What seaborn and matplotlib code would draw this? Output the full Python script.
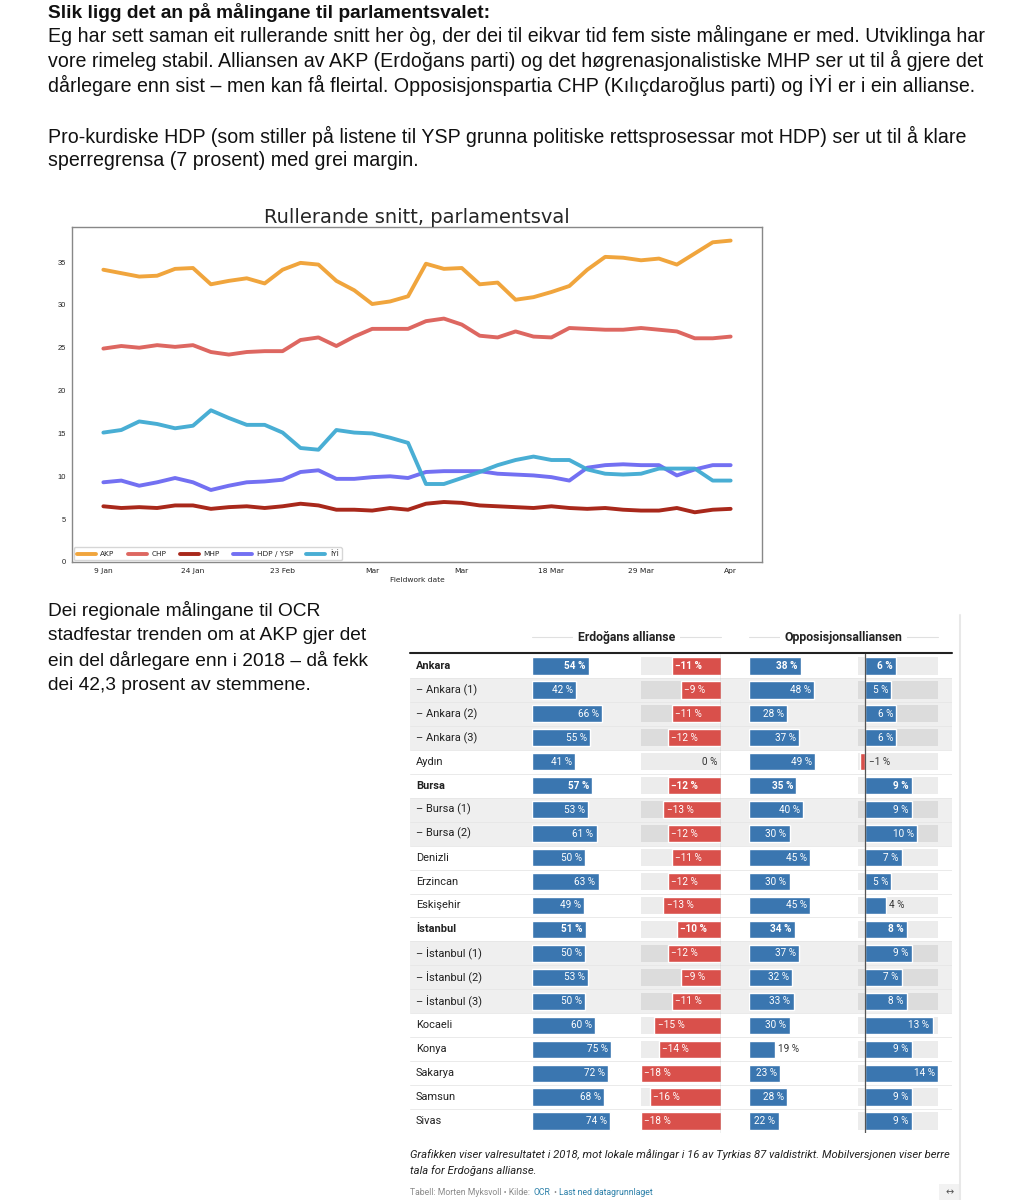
import numpy as np
import pandas as pd
import seaborn as sns
import matplotlib.pyplot as plt
from matplotlib.lines import Line2D
from matplotlib.patches import Rectangle

# --- rolling average, 36 points ---
tick_labels = ["9 Jan", "24 Jan", "23 Feb", "Mar", "Mar", "18 Mar", "29 Mar", "Apr"]
akp = [34.1, 33.7, 33.3, 33.4, 34.2, 34.3, 32.4, 32.8, 33.1, 32.5,
       34.1, 34.9, 34.7, 32.8, 31.7, 30.1, 30.4, 31.0, 34.8, 34.2,
       34.3, 32.4, 32.6, 30.6, 30.9, 31.5, 32.2, 34.1, 35.6, 35.5,
       35.2, 35.4, 34.7, 36.0, 37.3, 37.5]
chp = [24.9, 25.2, 25.0, 25.3, 25.1, 25.3, 24.5, 24.2, 24.5, 24.6,
       24.6, 25.9, 26.2, 25.2, 26.3, 27.2, 27.2, 27.2, 28.1, 28.4,
       27.7, 26.4, 26.2, 26.9, 26.3, 26.2, 27.3, 27.2, 27.1, 27.1,
       27.3, 27.1, 26.9, 26.1, 26.1, 26.3]
mhp = [6.5, 6.3, 6.4, 6.3, 6.6, 6.6, 6.2, 6.4, 6.5, 6.3,
       6.5, 6.8, 6.6, 6.1, 6.1, 6.0, 6.3, 6.1, 6.8, 7.0,
       6.9, 6.6, 6.5, 6.4, 6.3, 6.5, 6.3, 6.2, 6.3, 6.1,
       6.0, 6.0, 6.3, 5.8, 6.1, 6.2]
hdp = [9.3, 9.5, 8.9, 9.3, 9.8, 9.3, 8.4, 8.9, 9.3, 9.4,
       9.6, 10.5, 10.7, 9.7, 9.7, 9.9, 10.0, 9.8, 10.5, 10.6,
       10.6, 10.6, 10.3, 10.2, 10.1, 9.9, 9.5, 11.0, 11.3, 11.4,
       11.3, 11.3, 10.1, 10.8, 11.3, 11.3]
iyi = [15.1, 15.4, 16.4, 16.1, 15.6, 15.9, 17.7, 16.8, 16.0, 16.0,
       15.1, 13.3, 13.1, 15.4, 15.1, 15.0, 14.5, 13.9, 9.1, 9.1,
       9.8, 10.5, 11.3, 11.9, 12.3, 11.9, 11.9, 10.8, 10.3, 10.2,
       10.3, 10.9, 10.9, 10.9, 9.5, 9.5]
parties = ["AKP", "CHP", "MHP", "HDP / YSP", "İYİ"]
party_colors = ["#f0a032", "#dc5f58", "#a41c0e", "#6b68f2", "#3faad2"]

# --- regional polls (OCR) ---
rows = ["Ankara", "– Ankara (1)", "– Ankara (2)", "– Ankara (3)", "Aydın",
        "Bursa", "– Bursa (1)", "– Bursa (2)", "Denizli", "Erzincan",
        "Eskişehir", "İstanbul", "– İstanbul (1)", "– İstanbul (2)", "– İstanbul (3)",
        "Kocaeli", "Konya", "Sakarya", "Samsun", "Sivas"]
main_rows = ["Ankara", "Bursa", "İstanbul"]
erdogan = [54, 42, 66, 55, 41, 57, 53, 61, 50, 63, 49, 51, 50, 53, 50, 60, 75, 72, 68, 74]
erdogan_chg = [-11, -9, -11, -12, 0, -12, -13, -12, -11, -12, -13, -10, -12, -9, -11, -15, -14, -18, -16, -18]
oppos = [38, 48, 28, 37, 49, 35, 40, 30, 45, 30, 45, 34, 37, 32, 33, 30, 19, 23, 28, 22]
oppos_chg = [6, 5, 6, 6, -1, 9, 9, 10, 7, 5, 4, 8, 9, 7, 8, 13, 9, 14, 9, 9]

BLUE = "#3a76b0"
RED = "#d9504b"
DARK = "#333333"

W, H = 1023, 1200
sns.set_style("white")
plt.rcParams["font.family"] = ["Liberation Sans", "DejaVu Sans"]

fig = plt.figure(figsize=(W / 100, H / 100), dpi=100)


def fy(y):
    return 1 - y / H


def axes_px(x0, x1, y0, y1):
    return fig.add_axes([x0 / W, 1 - y1 / H, (x1 - x0) / W, (y1 - y0) / H])


# --- intro text ---
body = dict(fontsize=14.1, va="center", ha="left", color="#111111")
fig.text(48 / W, fy(12), "Slik ligg det an på målingane til parlamentsvalet:", fontweight="bold",
         **{**body, "fontsize": 13.8})
intro = ["Eg har sett saman eit rullerande snitt her òg, der dei til eikvar tid fem siste målingane er med. Utviklinga har",
         "vore rimeleg stabil. Alliansen av AKP (Erdoğans parti) og det høgrenasjonalistiske MHP ser ut til å gjere det",
         "dårlegare enn sist – men kan få fleirtal. Opposisjonspartia CHP (Kılıçdaroğlus parti) og İYİ er i ein allianse."]
for k, line in enumerate(intro):
    fig.text(48 / W, fy(35 + 25 * k), line, **body)
fig.text(48 / W, fy(136), "Pro-kurdiske HDP (som stiller på listene til YSP grunna politiske rettsprosessar mot HDP) ser ut til å klare", **body)
fig.text(48 / W, fy(160), "sperregrensa (7 prosent) med grei margin.", **body)

left_txt = ["Dei regionale målingane til OCR", "stadfestar trenden om at AKP gjer det",
            "ein del dårlegare enn i 2018 – då fekk", "dei 42,3 prosent av stemmene."]
for k, line in enumerate(left_txt):
    fig.text(48 / W, fy(610 + 25.3 * k), line, **{**body, "fontsize": 13.8})

# --- line chart ---
n = len(akp)
df = pd.DataFrame({"idx": np.arange(n), "AKP": akp, "CHP": chp, "MHP": mhp,
                   "HDP / YSP": hdp, "İYİ": iyi})
long = df.melt(id_vars="idx", var_name="party", value_name="share")

ax = axes_px(72, 762, 227, 562)
sns.lineplot(data=long, x="idx", y="share", hue="party", hue_order=parties,
             palette=party_colors, linewidth=2.8, alpha=0.95, ax=ax)
ax.set_ylim(bottom=0)
ax.set_xticks(np.arange(0, n, 5))
ax.set_xticklabels(tick_labels, family="DejaVu Sans")
ax.set_yticks(np.arange(0, 36, 5))
ax.tick_params(axis="both", labelsize=5.4, length=2.5, width=0.7, colors="#222222", pad=2)
for s in ax.spines.values():
    s.set_color("#888888")
    s.set_linewidth(1.0)
ax.set_xlabel("Fieldwork date", fontsize=5.4, family="DejaVu Sans", labelpad=2)
ax.set_ylabel("")
ax.set_title("Rullerande snitt, parlamentsval", fontsize=14, family="DejaVu Sans", pad=3)
ax.legend(loc="lower left", ncol=5, frameon=True, borderaxespad=0.25,
          handlelength=2.6, handletextpad=0.6, columnspacing=1.8,
          prop={"family": "DejaVu Sans", "size": 5.3})

# --- table ---
TOP, RH, N = 654, 23.95, len(rows)
BOT = TOP + N * RH
tfont = ["Roboto", "DejaVu Sans"]
sub = [r.startswith("–") for r in rows]

bg = axes_px(410, 952, TOP, BOT)
bg.set_xlim(0, 1)
bg.set_ylim(N - 0.5, -0.5)
bg.axis("off")
for i, r in enumerate(rows):
    if sub[i]:
        bg.axhspan(i - 0.5, i + 0.5, color="#efefef", lw=0)
    if i < N - 1:
        bg.axhline(i + 0.5, color="#e6e6e6", lw=0.6)
    bg.text(0.011, i, r, va="center", ha="left", fontsize=7.9, family=tfont,
            fontweight="bold" if r in main_rows else "normal", color="#222222")


def col_axes(x0, lo, hi, vals, colors, gray_bg):
    a = axes_px(x0, x0 + 80, TOP, BOT)
    a.patch.set_alpha(0)
    if gray_bg:
        a.barh(np.arange(N), hi - lo, left=lo, height=0.72, lw=0,
               color=["#dcdcdc" if s else "#ececec" for s in sub])
    sns.barplot(x=vals, y=rows, hue=rows, palette=dict(zip(rows, colors)), orient="h",
                width=0.72, saturation=1, errorbar=None, legend=False, ax=a)
    a.set_xlim(lo, hi)
    a.set_ylim(N - 0.5, -0.5)
    a.axis("off")
    return a


def lab(a, v, i, txt, inside, side):
    w = "bold" if rows[i] in main_rows else "normal"
    a.annotate(txt, (v, i), xytext=(side * 2.4, 0), textcoords="offset points",
               ha="left" if side > 0 else "right", va="center", fontsize=7.2,
               family=tfont, fontweight=w, color="white" if inside else DARK,
               annotation_clip=False, zorder=5)


def pct(v):
    return f"−{abs(v)} %" if v < 0 else f"{v} %"


e_ax = col_axes(532, 0, 75.6, erdogan, [BLUE] * N, False)
for i, v in enumerate(erdogan):
    lab(e_ax, v, i, pct(v), True, -1)

ec_ax = col_axes(641, -18, 0, erdogan_chg, [RED] * N, True)
for i, v in enumerate(erdogan_chg):
    if v < 0:
        lab(ec_ax, v, i, pct(v), True, 1)
    else:
        lab(ec_ax, 0, i, pct(v), False, -1)
ec_ax.axvline(0, color="#8a8a8a", lw=0.9, zorder=4)

o_ax = col_axes(749, 0, 59, oppos, [BLUE] * N, False)
for i, v in enumerate(oppos):
    if v >= 20:
        lab(o_ax, v, i, pct(v), True, -1)
    else:
        lab(o_ax, v, i, pct(v), False, 1)

oc_ax = col_axes(858, -1.4, 14, oppos_chg, [BLUE if v >= 0 else RED for v in oppos_chg], True)
for i, v in enumerate(oppos_chg):
    if v >= 5:
        lab(oc_ax, v, i, pct(v), True, -1)
    elif v > 0:
        lab(oc_ax, v, i, pct(v), False, 1)
    else:
        lab(oc_ax, 0, i, pct(v), False, 1)
oc_ax.axvline(0, color="#555555", lw=0.9, zorder=4)

# headers
for x0, x1, title in [(532, 721, "Erdoğans allianse"), (749, 938, "Opposisjonsalliansen")]:
    fig.add_artist(Line2D([x0 / W, x1 / W], [fy(637), fy(637)], color="#e0e0e0", lw=0.8))
    fig.text((x0 + x1) / 2 / W, fy(637), title, ha="center", va="center", fontsize=8.8,
             fontweight="bold", family=tfont, color="#222222",
             bbox=dict(facecolor="white", edgecolor="none", pad=3.5))
fig.add_artist(Line2D([410 / W, 952 / W], [fy(653), fy(653)], color="#222222", lw=1.5))

# caption and source
cap = dict(fontsize=8.1, style="italic", family=tfont, color="#222222", va="center", ha="left")
fig.text(410 / W, fy(1155), "Grafikken viser valresultatet i 2018, mot lokale målingar i 16 av Tyrkias 87 "
         "valdistrikt. Mobilversjonen viser berre", **cap)
fig.text(410 / W, fy(1171), "tala for Erdoğans allianse.", **cap)

src = dict(fontsize=6.2, family=tfont, va="bottom", ha="left", annotation_clip=False)
t1 = fig.text(410 / W, fy(1197), "Tabell: Morten Myksvoll • Kilde:", fontsize=6.2, family=tfont,
              color="#8a8a8a", va="bottom", ha="left")
t2 = bg.annotate("OCR", xy=(1, 0), xycoords=t1, xytext=(2.2, 0), textcoords="offset points",
                 color="#2a7fa8", **src)
t3 = bg.annotate("•", xy=(1, 0), xycoords=t2, xytext=(2.2, 0), textcoords="offset points",
                 color="#8a8a8a", **src)
bg.annotate("Last ned datagrunnlaget", xy=(1, 0), xycoords=t3, xytext=(2.2, 0),
            textcoords="offset points", color="#2a7fa8", **src)

# embed frame edge and resize icon
fig.add_artist(Line2D([960 / W, 960 / W], [fy(615), fy(1200)], color="#e8e8e8", lw=1.5))
fig.add_artist(Rectangle((939 / W, fy(1200)), 21 / W, 16 / H, transform=fig.transFigure,
                         facecolor="#f2f2f2", edgecolor="none"))
fig.text(949.5 / W, fy(1192), "↔", ha="center", va="center", fontsize=7,
         family="DejaVu Sans", color="#555555")

fig.savefig("out.png", dpi=100, facecolor="white")
